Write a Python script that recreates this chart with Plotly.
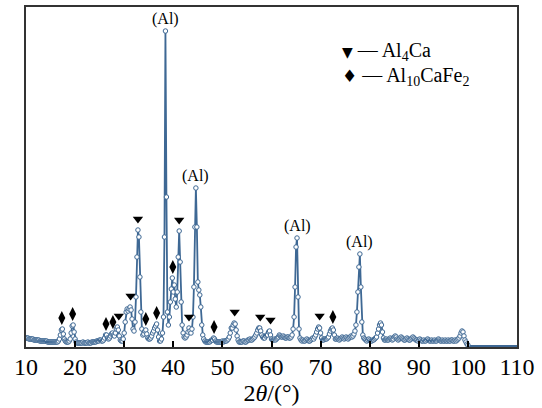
import numpy as np
import plotly.graph_objects as go

# ---- data ----
scan_start = 10.0   # 2theta of first sample (deg)
scan_step = 0.2     # sampling step (deg)
intensity = [
    9, 9, 9, 8, 8, 8, 8, 8, 7, 7,          # 10.0-11.8
    7, 7, 7, 7, 6, 6, 6, 6, 6, 6,          # 12.0-13.8
    6, 6, 5, 5, 5, 5, 5, 5, 5, 5,          # 14.0-15.8
    5, 5, 5, 6, 8, 12, 17, 18, 13, 8,      # 16.0-17.8
    6, 5, 5, 5, 6, 8, 14, 21, 22, 15,      # 18.0-19.8
    8, 5, 4, 4, 4, 4, 4, 4, 5, 4,          # 20.0-21.8
    4, 4, 4, 5, 4, 4, 4, 5, 5, 5,          # 22.0-23.8
    5, 5, 6, 6, 6, 7, 7, 6, 6, 7,          # 24.0-25.8
    9, 12, 12, 9, 8, 9, 11, 13, 14, 12,    # 26.0-27.8
    11, 14, 18, 20, 17, 11, 7, 6, 6, 8,    # 28.0-29.8
    14, 25, 35, 38, 36, 38, 40, 37, 28, 18,  # 30.0-31.8
    16, 25, 50, 90, 117, 110, 70, 35, 18, 12,  # 32.0-33.8
    13, 16, 17, 13, 9, 8, 8, 9, 11, 14,    # 34.0-35.8
    16, 19, 21, 23, 17, 10, 6, 6, 8, 14,   # 36.0-37.8
    30, 110, 316, 150, 35, 22, 30, 45, 58, 69,  # 38.0-39.8
    55, 62, 48, 40, 55, 90, 116, 85, 45, 22,  # 40.0-41.8
    14, 10, 9, 10, 12, 15, 19, 16, 14, 18,  # 42.0-43.8
    30, 60, 120, 159, 120, 65, 57, 52, 40, 22,  # 44.0-45.8
    12, 8, 6, 5, 5, 5, 5, 5, 6, 7,         # 46.0-47.8
    7, 9, 8, 6, 5, 5, 5, 5, 5, 5,          # 48.0-49.8
    6, 5, 6, 6, 6, 7, 8, 10, 14, 19,       # 50.0-51.8
    19, 22, 24, 23, 17, 11, 7, 5, 5, 5,    # 52.0-53.8
    5, 6, 6, 5, 5, 6, 7, 7, 8, 7,          # 54.0-55.8
    7, 8, 9, 10, 12, 14, 17, 19, 19, 16,   # 56.0-57.8
    12, 10, 9, 9, 11, 12, 12, 15, 16, 12,  # 58.0-59.8
    8, 7, 7, 8, 7, 8, 9, 10, 12, 11,       # 60.0-61.8
    10, 10, 11, 10, 9, 9, 10, 10, 9, 9,    # 62.0-63.8
    10, 12, 18, 30, 60, 100, 109, 50, 18, 9,  # 64.0-65.8
    7, 6, 7, 6, 6, 7, 8, 7, 6, 6,          # 66.0-67.8
    7, 8, 9, 8, 10, 12, 15, 18, 20, 19,    # 68.0-69.8
    14, 9, 7, 7, 8, 8, 8, 9, 10, 13,       # 70.0-71.8
    16, 18, 19, 17, 12, 8, 8, 9, 8, 7,     # 72.0-73.8
    8, 9, 10, 9, 8, 9, 10, 9, 8, 9,        # 74.0-75.8
    10, 11, 10, 11, 13, 16, 22, 35, 55, 80,  # 76.0-77.8
    93, 60, 25, 12, 9, 8, 7, 6, 7, 8,      # 78.0-79.8
    7, 6, 6, 7, 7, 8, 9, 10, 14, 18,       # 80.0-81.8
    22, 24, 22, 15, 9, 7, 7, 8, 7, 7,      # 82.0-83.8
    8, 9, 8, 7, 8, 10, 11, 10, 8, 7,       # 84.0-85.8
    8, 9, 10, 9, 8, 7, 7, 8, 9, 8,         # 86.0-87.8
    7, 7, 8, 9, 10, 9, 8, 7, 7, 6,         # 88.0-89.8
    7, 8, 7, 6, 6, 7, 6, 6, 7, 8,          # 90.0-91.8
    7, 6, 6, 7, 6, 6, 7, 6, 6, 7,          # 92.0-93.8
    8, 7, 6, 6, 7, 6, 6, 7, 6, 6,          # 94.0-95.8
    7, 6, 6, 7, 7, 6, 6, 7, 6, 7,          # 96.0-97.8
    8, 9, 11, 14, 16, 15, 11, 7, 5, 3,     # 98.0-99.8
    2,                                     # 100.0
]
tail_two_theta = [100.0, 100.2, 110.0]
tail_intensity = [2, 1, 1]

al4ca_peaks = [28.9, 31.3, 32.8, 41.2, 43.2, 52.5, 57.7, 59.8, 69.8]
al10cafe2_peaks = [17.3, 19.5, 26.3, 27.7, 34.4, 36.6, 39.9, 48.3, 72.5]
al_peaks = [38.4, 44.6, 65.2, 78.0]

x_ticks = [10, 20, 30, 40, 50, 60, 70, 80, 90, 100, 110]

legend_rows = [
    ("▼", 14, "— Al<sub>4</sub>Ca"),
    ("♦", 17, "— Al<sub>10</sub>CaFe<sub>2</sub>"),
]

# ---- build ----
two_theta = np.round(scan_start + scan_step * np.arange(len(intensity)), 1)
inten = np.array(intensity, dtype=float)


def local_max(pos, win=0.3):
    sel = np.abs(two_theta - pos) <= win + 1e-9
    return float(inten[sel].max())


mark_offset = 11
tri_y = [local_max(p) + mark_offset for p in al4ca_peaks]
dia_y = [local_max(p) + mark_offset for p in al10cafe2_peaks]

LINE = "#3e6894"
SERIF = "Liberation Serif, Times New Roman, serif"

fig = go.Figure()
fig.add_trace(go.Scatter(
    x=tail_two_theta, y=tail_intensity, mode="lines",
    line=dict(color=LINE, width=2), showlegend=False, hoverinfo="skip"))
fig.add_trace(go.Scatter(
    x=two_theta, y=inten, mode="lines+markers",
    line=dict(color=LINE, width=1.8),
    marker=dict(symbol="circle", size=4.5, color="white",
                line=dict(color=LINE, width=1)),
    showlegend=False))
fig.add_trace(go.Scatter(
    x=al4ca_peaks, y=tri_y, mode="markers",
    marker=dict(symbol="triangle-down", size=9, color="black"),
    name="Al4Ca", showlegend=False))
fig.add_trace(go.Scatter(
    x=al10cafe2_peaks, y=dia_y, mode="markers",
    marker=dict(symbol="diamond-tall", size=10, color="black"),
    name="Al10CaFe2", showlegend=False))

for p in al_peaks:
    fig.add_annotation(x=p, y=local_max(p, 0.2), text="(Al)", showarrow=False,
                       yanchor="bottom", yshift=1,
                       font=dict(family=SERIF, size=16, color="black"))

legend_y = [0.868, 0.796]
for (sym, sym_size, label), ly in zip(legend_rows, legend_y):
    fig.add_annotation(
        xref="paper", yref="paper", x=0.64, y=ly, xanchor="left", yanchor="middle",
        showarrow=False, align="left",
        text=f"<span style='font-family:DejaVu Sans;font-size:{sym_size}px'>{sym}</span> {label}",
        font=dict(family=SERIF, size=20, color="black"))

fig.update_layout(
    width=542, height=408,
    margin=dict(l=26, r=25, t=7, b=61),
    paper_bgcolor="white", plot_bgcolor="white",
    font=dict(family=SERIF, color="black"),
    showlegend=False,
)
fig.update_xaxes(
    range=[10, 110], tickvals=x_ticks, ticktext=[str(t) for t in x_ticks],
    ticks="inside", ticklen=6, tickwidth=1.5, tickcolor="black",
    showline=True, linecolor="#333333", linewidth=2, mirror=True,
    showgrid=False, zeroline=False, automargin=False,
    ticklabelstandoff=-3,
    tickfont=dict(family=SERIF, size=24, color="black"),
    title=dict(text="2<i>θ</i>/(°)", font=dict(family=SERIF, size=24, color="black"),
               standoff=0),
)
fig.update_yaxes(
    range=[0, 340], showticklabels=False, ticks="",
    showline=True, linecolor="#333333", linewidth=2, mirror=True,
    showgrid=False, zeroline=False, automargin=False,
)

fig.write_html("out.html", config={"displayModeBar": False},
               post_script="document.body.style.margin='0';document.body.style.overflow='hidden';")
